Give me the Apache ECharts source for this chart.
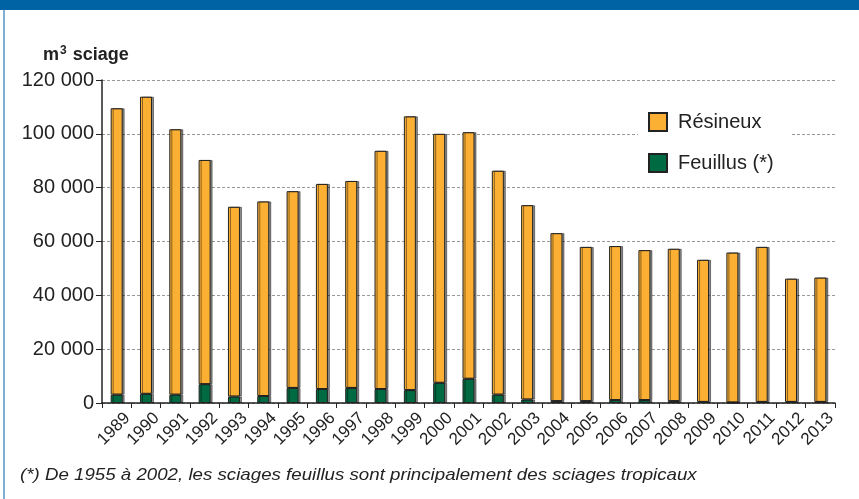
<!DOCTYPE html>
<html>
<head>
<meta charset="utf-8">
<script src="https://cdn.jsdelivr.net/npm/echarts@6/dist/echarts.min.js"></script>
<style>
html, body { margin: 0; padding: 0; background: #fff; }
#main { width: 859px; height: 499px; }
</style>
</head>
<body>
<div id="main"></div>
<script>
var years = ['1989','1990','1991','1992','1993','1994','1995','1996','1997','1998','1999','2000','2001',
    '2002','2003','2004','2005','2006','2007','2008','2009','2010','2011','2012','2013'];
var feuillus = [3100, 3400, 3100, 7000, 2400, 2600, 5600, 5200, 5600, 5200, 4800, 7500, 9000,
    3100, 1300, 700, 700, 1100, 1100, 700, 400, 200, 400, 400, 400];
var resineux = [106400, 110400, 98600, 83300, 70500, 72300, 73100, 76200, 76900, 88500, 101700, 92500, 91600,
    83200, 72200, 62400, 57300, 57200, 55700, 56600, 52800, 55700, 57600, 45800, 46200];
var yTicks = [0, 20000, 40000, 60000, 80000, 100000, 120000];

var dom = document.getElementById('main');
var myChart = echarts.init(dom, null, { renderer: 'canvas' });

function fmt(v) {
    return String(v).replace(/\B(?=(\d{3})+(?!\d))/g, ' ');
}

var barStyle = {
    borderColor: '#222',
    borderWidth: 1,
    shadowColor: 'rgba(0,0,0,0.45)',
    shadowOffsetX: 2,
    shadowBlur: 0
};

var option = {
    animation: false,
    textStyle: { fontFamily: 'Liberation Sans, Arial, sans-serif' },
    graphic: [
        { type: 'rect', left: 0, top: 0, shape: { width: 859, height: 10 }, style: { fill: '#0063a3' } },
        { type: 'rect', left: 3, top: 10, shape: { width: 2, height: 489 }, style: { fill: '#7fb0d4' } },
        {
            type: 'text', left: 20, top: 467, scaleX: 1.1,
            style: {
                text: '(*) De 1955 à 2002, les sciages feuillus sont principalement des sciages tropicaux',
                font: 'italic 17px Liberation Sans, Arial, sans-serif',
                fill: '#222'
            }
        },
        {
            type: 'text', left: 43, top: 45,
            style: {
                rich: {
                    b: { font: 'bold 18px Liberation Sans, Arial, sans-serif', fill: '#222' },
                    s: { font: 'bold 12px Liberation Sans, Arial, sans-serif', fill: '#222', verticalAlign: 'top', padding: [0, 1, 9, 1] }
                },
                text: '{b|m}{s|3}{b| sciage}'
            }
        }
    ],
    legend: {
        orient: 'vertical',
        left: 638,
        top: 104,
        itemGap: 21,
        itemWidth: 18,
        itemHeight: 18,
        icon: 'rect',
        padding: [8, 18, 8, 10],
        backgroundColor: '#fff',
        textStyle: { fontSize: 20, color: '#222', padding: [0, 0, 0, 6] },
        data: ['Résineux', 'Feuillus (*)']
    },
    grid: { left: 102, right: 24, top: 80, bottom: 96 },
    xAxis: {
        type: 'category',
        data: years,
        axisLine: { lineStyle: { color: '#222', width: 1.5 } },
        axisTick: { show: true, length: 5, lineStyle: { color: '#222' } },
        axisLabel: {
            rotate: 45, fontSize: 17, color: '#222', margin: 2, interval: 0,
            align: 'right', verticalAlign: 'top', lineHeight: 30
        }
    },
    yAxis: {
        type: 'value',
        min: 0,
        max: 120000,
        interval: 20000,
        axisLine: { show: true, lineStyle: { color: '#222', width: 1.5 } },
        axisTick: { show: true, length: 6, lineStyle: { color: '#222' } },
        splitLine: { lineStyle: { color: '#999', type: [3, 2] } },
        axisLabel: {
            fontSize: 20, color: '#222', margin: 8,
            formatter: function (v) { return yTicks.indexOf(v) >= 0 ? fmt(v) : ''; }
        }
    },
    series: [
        {
            name: 'Feuillus (*)',
            type: 'bar',
            stack: 'total',
            barWidth: 12,
            data: feuillus,
            itemStyle: Object.assign({ color: '#006b42' }, barStyle)
        },
        {
            name: 'Résineux',
            type: 'bar',
            stack: 'total',
            barWidth: 12,
            data: resineux,
            itemStyle: Object.assign({ color: '#fbb034' }, barStyle)
        }
    ]
};

if (option && typeof option === 'object') {
    myChart.setOption(option);
}

window.addEventListener('resize', myChart.resize);
</script>
</body>
</html>
